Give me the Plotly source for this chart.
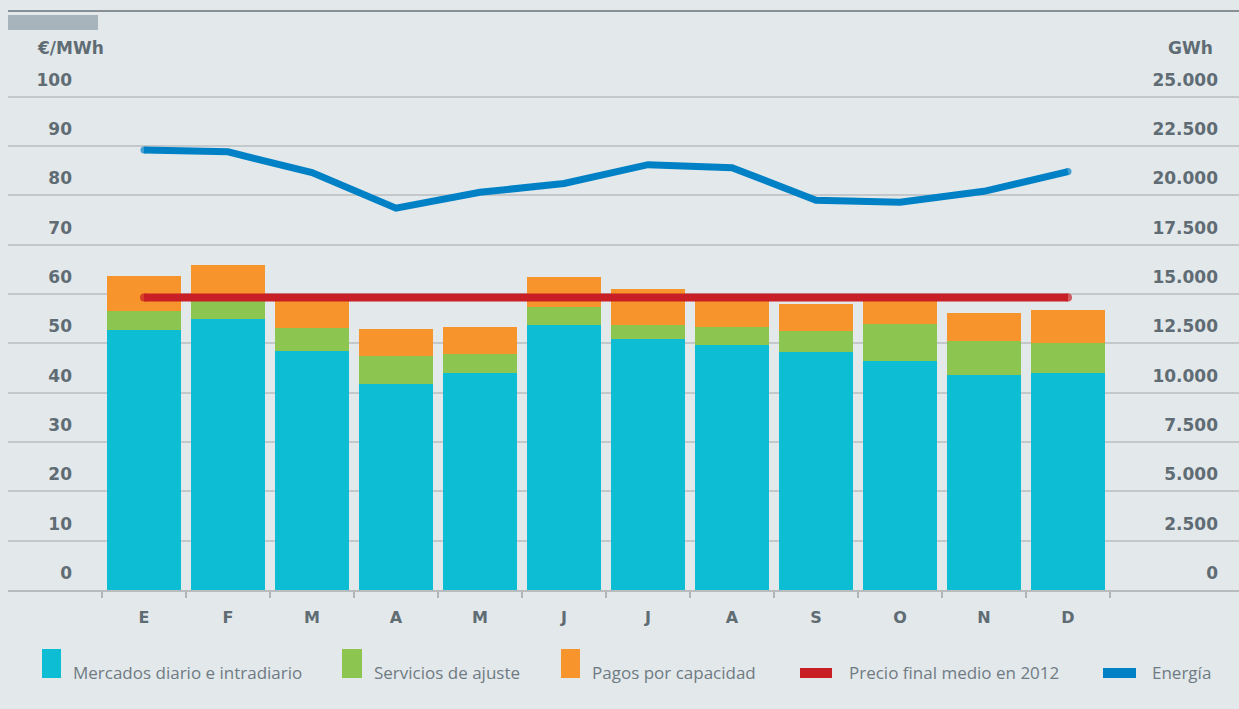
import plotly.graph_objects as go

# ---- data ----
meses = ["E", "F", "M", "A", "M", "J", "J", "A", "S", "O", "N", "D"]
mercados = [52.7, 55.0, 48.5, 41.8, 44.0, 53.8, 50.8, 49.7, 48.3, 46.5, 43.6, 44.0]
ajuste = [3.9, 3.6, 4.7, 5.7, 3.9, 3.5, 3.0, 3.6, 4.1, 7.5, 6.9, 6.0]
capacidad = [7.1, 7.3, 6.2, 5.4, 5.4, 6.2, 7.3, 6.2, 5.6, 5.4, 5.7, 6.8]
precio_medio = [59.3, 59.3, 59.3, 59.3, 59.3, 59.3, 59.3, 59.3, 59.3, 59.3, 59.3, 59.3]
energia = [22300, 22200, 21150, 19350, 20150, 20600, 21550, 21400, 19750, 19650, 20200, 21200]

left_ticks = [0, 10, 20, 30, 40, 50, 60, 70, 80, 90, 100]
right_ticks = [0, 2500, 5000, 7500, 10000, 12500, 15000, 17500, 20000, 22500, 25000]
right_labels = ["0", "2.500", "5.000", "7.500", "10.000", "12.500", "15.000",
                "17.500", "20.000", "22.500", "25.000"]

names = ["Mercados diario e intradiario", "Servicios de ajuste", "Pagos por capacidad",
         "Precio final medio en 2012", "Energía"]

# ---- style ----
BG = "#e3e8eb"
C_CYAN = "#0dbdd3"
C_GREEN = "#8cc651"
C_ORANGE = "#f7942b"
C_RED = "#c81e25"
C_BLUE = "#0081c6"
TXT = "#5f6c74"
LEG_TXT = "#6f7b83"
GRID = "#c5c8cb"

W, H = 1239, 709
L, R, T, B = 8, 0, 67, 119
PW, PH = W - L - R, H - T - B
YMAX = 106.0

def px(xp):
    return (xp - L) / PW

def py(yp):
    return (H - B - yp) / PH

x = list(range(len(meses)))
n = len(meses)

def end_caps(size):
    # round caps: markers only on the first and last point
    return [size] + [0] * (n - 2) + [size]

fig = go.Figure()
fig.add_trace(go.Bar(x=x, y=mercados, name=names[0], marker_color=C_CYAN, marker_line_width=0))
fig.add_trace(go.Bar(x=x, y=ajuste, name=names[1], marker_color=C_GREEN, marker_line_width=0))
fig.add_trace(go.Bar(x=x, y=capacidad, name=names[2], marker_color=C_ORANGE, marker_line_width=0))
fig.add_trace(go.Scatter(x=x, y=precio_medio, name=names[3], mode="lines+markers",
                         line=dict(color=C_RED, width=8),
                         marker=dict(color=C_RED, size=end_caps(8), line=dict(width=0))))
fig.add_trace(go.Scatter(x=x, y=energia, name=names[4], mode="lines+markers", yaxis="y2",
                         line=dict(color=C_BLUE, width=7),
                         marker=dict(color=C_BLUE, size=end_caps(7), line=dict(width=0))))

tickfont = dict(family="DejaVu Sans", size=17, color=TXT, weight="bold")

fig.update_layout(
    width=W, height=H,
    margin=dict(l=L, r=R, t=T, b=B, autoexpand=False),
    paper_bgcolor=BG, plot_bgcolor=BG,
    barmode="stack", bargap=0.119,
    showlegend=False,
    hovermode=False,
    xaxis=dict(
        range=[-(144 - L) / 84, (W - 144) / 84],
        tickvals=x, ticktext=meses,
        ticks="", showgrid=False, zeroline=False,
        showline=True, linecolor="#b8bcbf", linewidth=2,
        tickfont=dict(family="DejaVu Sans", size=16, color=TXT, weight="bold"),
        ticklabelstandoff=12,
        minor=dict(tickmode="array", tickvals=[i - 0.5 for i in range(n + 1)],
                   ticks="outside", ticklen=6,
                   tickcolor="#b0b4b7", tickwidth=2, showgrid=False),
    ),
    yaxis=dict(
        range=[0, YMAX], tickvals=left_ticks,
        anchor="free", position=px(72),
        showgrid=True, gridcolor=GRID, gridwidth=2,
        zeroline=False, showline=False, ticks="",
        tickfont=tickfont, ticklabelshift=-17,
    ),
    yaxis2=dict(
        range=[0, YMAX * 250], tickvals=right_ticks, ticktext=right_labels,
        overlaying="y", side="right", anchor="x",
        showgrid=False, zeroline=False, showline=False, ticks="",
        ticklabelposition="inside", ticklabelstandoff=18, ticklabelshift=-17,
        tickfont=tickfont,
    ),
)

shapes = []
annotations = []
# top rule and tab
shapes.append(dict(type="line", xref="paper", yref="paper", x0=0, x1=1, y0=py(11), y1=py(11),
                   line=dict(color="#66737b", width=1.5)))
shapes.append(dict(type="rect", xref="paper", yref="paper", x0=0, x1=px(98), y0=py(30), y1=py(15),
                   fillcolor="#a8b4bb", line=dict(width=0)))
# axis titles
annotations.append(dict(text="€/MWh", xref="paper", yref="paper", x=px(35), y=py(48),
                        xanchor="left", yanchor="middle", showarrow=False, font=tickfont))
annotations.append(dict(text="GWh", xref="paper", yref="paper", x=px(1215), y=py(48),
                        xanchor="right", yanchor="middle", showarrow=False, font=tickfont))

# manual legend
leg_font = dict(family="Open Sans", size=17, color=LEG_TXT)
for (x0, x1, col) in [(42, 61, C_CYAN), (342, 362, C_GREEN), (561, 580, C_ORANGE)]:
    shapes.append(dict(type="rect", xref="paper", yref="paper", x0=px(x0), x1=px(x1),
                       y0=py(678), y1=py(649), fillcolor=col, line=dict(width=0)))
for (x0, x1, col) in [(800, 832, C_RED), (1103, 1136, C_BLUE)]:
    shapes.append(dict(type="line", xref="paper", yref="paper", x0=px(x0), x1=px(x1),
                       y0=py(673), y1=py(673), line=dict(color=col, width=10)))
for nm, tx in zip(names, [71, 372, 590, 847, 1150]):
    annotations.append(dict(text=nm, xref="paper", yref="paper", x=px(tx), y=py(672),
                            xanchor="left", yanchor="middle", showarrow=False, font=leg_font))

fig.update_layout(shapes=shapes, annotations=annotations)
fig.write_html(
    "out.html",
    config={"displayModeBar": False},
    post_script="document.body.style.margin='0';document.body.style.background='%s';" % BG,
)
